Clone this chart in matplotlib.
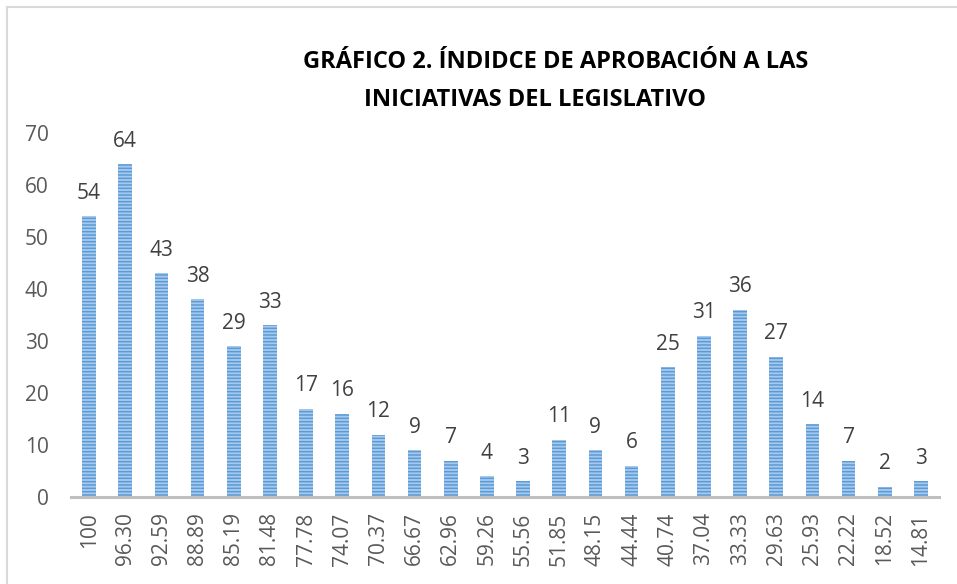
import numpy as np
import matplotlib
matplotlib.use("Agg")
import matplotlib.pyplot as plt
from matplotlib.lines import Line2D

plt.rcParams["font.family"] = ["Open Sans", "DejaVu Sans"]
plt.rcParams["hatch.linewidth"] = 1.1

# approval index (category) and number of initiatives
categories = ["100", "96.30", "92.59", "88.89", "85.19", "81.48", "77.78", "74.07",
              "70.37", "66.67", "62.96", "59.26", "55.56", "51.85", "48.15", "44.44",
              "40.74", "37.04", "33.33", "29.63", "25.93", "22.22", "18.52", "14.81"]
counts = [54, 64, 43, 38, 29, 33, 17, 16, 12, 9, 7, 4, 3, 11, 9, 6,
          25, 31, 36, 27, 14, 7, 2, 3]
y_ticks = [0, 10, 20, 30, 40, 50, 60, 70]

fig = plt.figure(figsize=(9.57, 5.84), dpi=100)
ax = fig.add_axes([0.0742, 0.149, 0.907, 0.623])

x = np.arange(len(categories))
ax.bar(x, counts, width=0.38, color="#a8c9ee", edgecolor="#5b9bd5",
       hatch="-----", linewidth=0)

for xi, v in zip(x, counts):
    ax.annotate(str(v), (xi, v), xytext=(0, 9), textcoords="offset points",
                ha="center", va="bottom", fontsize=15, color="#404040")

ax.set_xlim(-0.5, len(categories) - 0.5)
ax.set_ylim(0, 70)
ax.set_yticks(y_ticks)
ax.set_xticks(x)
ax.set_xticklabels(categories, rotation=90, fontsize=15, color="#595959")
ax.tick_params(axis="y", labelsize=15, labelcolor="#595959", length=0, pad=16)
ax.tick_params(axis="x", length=0, pad=11)

for side in ("top", "right", "left"):
    ax.spines[side].set_visible(False)
ax.spines["bottom"].set_color("#bfbfbf")
ax.spines["bottom"].set_linewidth(2.2)

# chart area frame (left and top edges)
fig.add_artist(Line2D([0.0073, 0.0073], [0, 0.988], transform=fig.transFigure,
                      color="#d9d9d9", lw=1.5))
fig.add_artist(Line2D([0.0073, 1.0], [0.988, 0.988], transform=fig.transFigure,
                      color="#d9d9d9", lw=1.5))

fig.text(0.581, 0.893, "GRÁFICO 2. ÍNDIDCE DE APROBACIÓN A LAS", ha="center",
         va="center", fontsize=17, fontweight="bold", color="#000000")
fig.text(0.559, 0.829, "INICIATIVAS DEL LEGISLATIVO", ha="center",
         va="center", fontsize=17, fontweight="bold", color="#000000")

fig.savefig("out.png", dpi=100)
